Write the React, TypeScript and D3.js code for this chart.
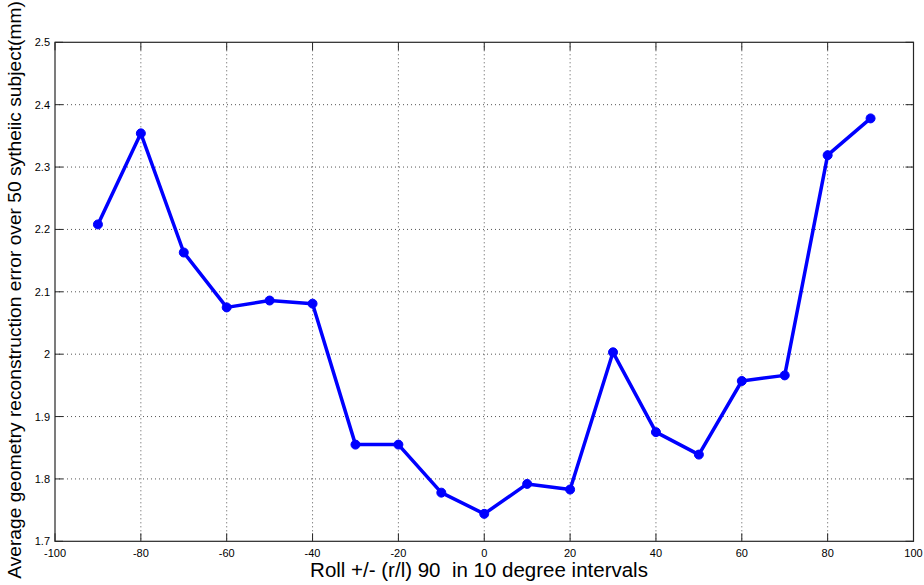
import React from "react";
import * as d3 from "d3";

const rollAngles = [-90, -80, -70, -60, -50, -40, -30, -20, -10, 0, 10, 20, 30, 40, 50, 60, 70, 80, 90];
const errorValues = [2.208, 2.354, 2.163, 2.075, 2.086, 2.081, 1.855, 1.855, 1.778, 1.744, 1.792, 1.783, 2.003, 1.875, 1.839, 1.957, 1.966, 2.319, 2.378];
const xTicks = [-100, -80, -60, -40, -20, 0, 20, 40, 60, 80, 100];
const yTicks = [1.7, 1.8, 1.9, 2, 2.1, 2.2, 2.3, 2.4, 2.5];
const xLabel = "Roll +/- (r/l) 90  in 10 degree intervals";
const yLabel = "Average geometry reconstruction error over 50 sytheiic subject(mm)";

const W = 924, H = 585;
const L = 55, R = 913.5, T = 42.3, B = 541.3;

export default function App() {
  const x = d3.scaleLinear().domain([-100, 100]).range([L, R]);
  const y = d3.scaleLinear().domain([1.7, 2.5]).range([B, T]);
  const pts = rollAngles.map((a, i) => [a, errorValues[i]] as [number, number]);
  const line = d3.line<[number, number]>().x(d => x(d[0])).y(d => y(d[1]));
  const font = "'Liberation Sans', Arial, sans-serif";
  const axisColor = "#262626";
  const tickLen = 8;
  return (
    <svg width={W} height={H} style={{ position: "absolute", left: 0, top: 0, background: "#fff" }} fontFamily={font}>
      <rect x={0} y={0} width={W} height={H} fill="#fff" />
      {xTicks.slice(1, -1).map(t => (
        <line key={"gx" + t} x1={x(t)} x2={x(t)} y1={T} y2={B} stroke="#555" strokeWidth={1} strokeDasharray="1,3" />
      ))}
      {yTicks.slice(1, -1).map(t => (
        <line key={"gy" + t} x1={L} x2={R} y1={y(t)} y2={y(t)} stroke="#555" strokeWidth={1} strokeDasharray="1,3" />
      ))}
      {xTicks.map(t => (
        <g key={"tx" + t}>
          <line x1={x(t)} x2={x(t)} y1={B} y2={B - tickLen} stroke={axisColor} strokeWidth={1} />
          <line x1={x(t)} x2={x(t)} y1={T} y2={T + tickLen} stroke={axisColor} strokeWidth={1} />
          <text x={x(t)} y={B + 15.5} fontSize={11} textAnchor="middle" fill="#000">{t}</text>
        </g>
      ))}
      {yTicks.map(t => (
        <g key={"ty" + t}>
          <line x1={L} x2={L + tickLen} y1={y(t)} y2={y(t)} stroke={axisColor} strokeWidth={1} />
          <line x1={R} x2={R - tickLen} y1={y(t)} y2={y(t)} stroke={axisColor} strokeWidth={1} />
          <text x={L - 5} y={y(t) + 4} fontSize={11} textAnchor="end" fill="#000">{t}</text>
        </g>
      ))}
      <rect x={L} y={T} width={R - L} height={B - T} fill="none" stroke={axisColor} strokeWidth={1.2} />
      <path d={line(pts) || ""} fill="none" stroke="#0000ff" strokeWidth={3.5} strokeLinejoin="round" />
      {pts.map((p, i) => (
        <circle key={"m" + i} cx={x(p[0])} cy={y(p[1])} r={4.5} fill="#0000ff" stroke="#0000ff" strokeWidth={1} />
      ))}
      <text x={479} y={577} fontSize={20.5} textAnchor="middle" fill="#000" style={{ whiteSpace: "pre" }}>{xLabel}</text>
      <text transform={`translate(21,290) rotate(-90)`} fontSize={19.2} textAnchor="middle" fill="#000">{yLabel}</text>
    </svg>
  );
}
